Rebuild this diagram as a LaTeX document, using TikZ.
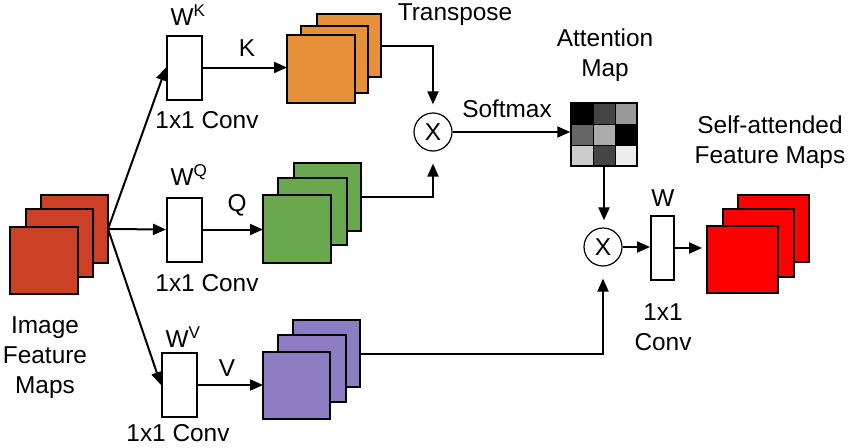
\documentclass[tikz,border=0pt]{standalone}
\usepackage{fontspec}
\setmainfont{Liberation Sans}
\usetikzlibrary{arrows.meta}
\definecolor{cinred}{HTML}{CC4125}
\definecolor{corange}{HTML}{E69138}
\definecolor{cgreen}{HTML}{6AA84F}
\definecolor{cpurple}{HTML}{8E7CC3}
\definecolor{coutred}{HTML}{FF0000}
\newcommand{\fmap}[6]{\node[fmbox, fill=#6, minimum width=#4pt, minimum height=#5pt] (#1) at (#2,#3) {};}
\begin{document}
\begin{tikzpicture}[x=1pt,y=-1pt,
  every node/.style={font=\fontsize{24.4}{30}\selectfont, inner sep=0pt},
  lbl/.style={align=center},
  fmbox/.style={draw, line width=2pt, anchor=north west, inner sep=0pt, outer sep=0pt},
  convbox/.style={draw, line width=2pt, fill=white, minimum width=35pt, minimum height=64pt},
  mult/.style={draw, circle, line width=1.2pt, minimum size=38pt, inner sep=0pt},
  arr/.style={line width=2pt, -{Triangle[length=13pt,width=11pt]}}
]
\useasboundingbox (0,0) rectangle (850,447);

% stacks of feature maps
\fmap{in3}{41}{195}{67}{68}{cinred}
\fmap{in2}{26}{209}{67}{68}{cinred}
\fmap{in1}{10}{227}{68}{67}{cinred}

\fmap{o3}{317}{14}{64}{63}{corange}
\fmap{o2}{301}{26}{67}{67}{corange}
\fmap{o1}{287}{35}{68}{68}{corange}

\fmap{g3}{294}{163}{67}{68}{cgreen}
\fmap{g2}{278}{178}{69}{67}{cgreen}
\fmap{g1}{263}{195}{68}{68}{cgreen}

\fmap{p3}{293}{320}{67}{67}{cpurple}
\fmap{p2}{278}{335}{68}{67}{cpurple}
\fmap{p1}{263}{352}{67}{67}{cpurple}

\fmap{r3}{738}{195}{71}{67}{coutred}
\fmap{r2}{723}{209}{71}{68}{coutred}
\fmap{r1}{707}{226}{71}{67}{coutred}

% 1x1 conv boxes
\node[convbox] (ck) at (184.5,67.5) {};
\node[convbox] (cq) at (184.5,229.5) {};
\node[convbox] (cv) at (179.5,385) {};
\node[convbox, minimum width=23pt] (cw) at (662.5,248) {};

% multiplication nodes
\node[mult] (m1) at (433,132) {X};
\node[mult] (m2) at (603,247) {X};

% attention map
\foreach \c [count=\k from 0] in {black,black!73,black!40,black!60,black!33,black,black!20,black!73,black!7}{
  \pgfmathtruncatemacro{\row}{int(\k/3)}
  \pgfmathtruncatemacro{\col}{mod(\k,3)}
  \fill[\c] (571+22*\col,103+21*\row) rectangle +(22,21);
}
\draw[line width=0.8pt] (593,103) -- (593,166) (615,103) -- (615,166)
  (571,124) -- (637,124) (571,145) -- (637,145);
\node[draw, line width=1.5pt, minimum width=66pt, minimum height=63pt] (am) at (604,134.5) {};

% connectors
\draw[arr] (in3.east) -- (ck.west);
\draw[arr] (in3.east) -- (cq.west);
\draw[arr] (in3.east) -- (cv.west);
\draw[arr] (ck.east) -- (ck.east -| o1.west);
\draw[arr] (cq.east) -- (cq.east -| g1.west);
\draw[arr] (cv.east) -- (cv.east -| p1.west);
\draw[arr, shorten >=8pt] (o3.east) -| (m1.north);
\draw[arr, shorten >=12pt] (g3.east) -| (m1.south);
\draw[arr] (m1.east) -- (m1.east -| am.west);
\draw[arr, shorten >=7pt] (am.south) -- (am.south |- m2.north);
\draw[arr, shorten >=12pt] (p3.east) -| (m2.south);
\draw[arr] (m2.east) -- (m2.east -| cw.west);
\draw[arr, shorten >=5pt] (cw.east) -- (cw.east -| r1.west);

% labels
\node (lwk) at (188,15) {W\textsuperscript{K}};
\node (lk) at (247,48) {K};
\node (lck) at (207,120) {1x1 Conv};
\node (lwq) at (189,175) {W\textsuperscript{Q}};
\node (lq) at (237,205) {Q};
\node (lcq) at (207,283) {1x1 Conv};
\node (lwv) at (183,337) {W\textsuperscript{V}};
\node (lv) at (227,368) {V};
\node (lcv) at (178,433) {1x1 Conv};
\node[lbl] (limg) at (45,358) {Image\\Feature\\Maps};
\node (ltr) at (455,15) {Transpose};
\node (lsm) at (507,109) {Softmax};
\node[lbl] (lam) at (605,55) {Attention\\Map};
\node[lbl] (lsa) at (770,142) {Self-attended\\Feature Maps};
\node (lw) at (663,198) {W};
\node[lbl] (lcw) at (663,327) {1x1\\Conv};
\end{tikzpicture}
\end{document}
